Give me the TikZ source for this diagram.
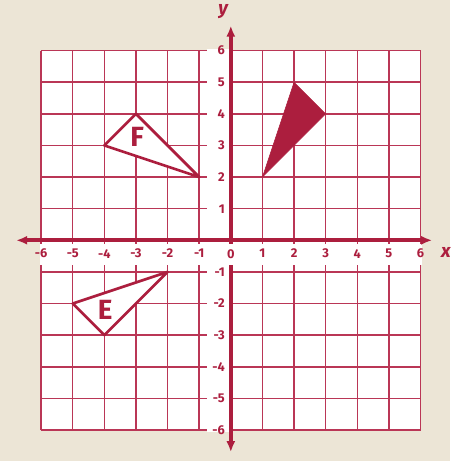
\documentclass[tikz,border=0pt]{standalone}
\usepackage{fontspec}
\setsansfont{Fira Sans}
\usetikzlibrary{arrows.meta}
\definecolor{GridRed}{RGB}{172, 30, 62}
\definecolor{GridPink}{RGB}{186, 54, 86}
\definecolor{PaperBeige}{RGB}{236, 229, 214}

\begin{document}
\begin{tikzpicture}[
    gridline/.style={GridPink, line width=1.3pt},
    axis/.style={GridRed, line width=3.5pt, {Latex[length=6mm,width=2.4mm]}-{Latex[length=6mm,width=2.4mm]}},
    tri/.style={GridRed, line width=2.4pt, fill=white, line join=round},
    solidtri/.style={GridRed, fill=GridRed, line width=0.4pt, line join=round},
    ticklabel/.style={GridRed, inner sep=1pt, font=\sffamily\bfseries\fontsize{11.5}{13}\selectfont},
    letter/.style={GridRed, font=\sffamily\bfseries\fontsize{25}{28}\selectfont},
    axislabel/.style={GridRed, font=\sffamily\bfseries\itshape\fontsize{17}{20}\selectfont}
  ]
    % Paper
    \useasboundingbox (-7.30, -6.98) rectangle (6.94, 7.60);
    \fill[PaperBeige] (-7.30, -6.98) rectangle (6.94, 7.60);
    \fill[white] (-6, -6) rectangle (6, 6);

    % Grid
    \foreach \i in {-6,...,6} {
      \draw[gridline] (\i, -6) -- (\i, 6);
      \draw[gridline] (-6, \i) -- (6, \i);
    }

    % Gaps for the numbers
    \fill[white] (-6.05, -0.12) rectangle (6.05, -0.78);
    \fill[white] (-0.75, -6.05) rectangle (0, 6.05);

    % Triangles
    \draw[tri] (-4, 3) -- (-3, 4) -- (-1, 2) -- cycle;
    \draw[tri] (-5, -2) -- (-4, -3) -- (-2, -1) -- cycle;
    \filldraw[solidtri] (1, 2) -- (2, 5) -- (3, 4) -- cycle;

    % Axes
    \coordinate (xmin) at (-7.04, 0);
    \coordinate (xmax) at (6.62, 0);
    \coordinate (ymin) at (0, -6.95);
    \coordinate (ymax) at (0, 7.04);
    \draw[axis] (xmin) -- (xmax);
    \draw[axis] (ymin) -- (ymax);

    % Numbers
    \foreach \i in {-6,...,-1,1,2,...,6} {
      \node[ticklabel] (xl\i) at (\i, -0.42) {\i};
      \node[ticklabel, anchor=east] (yl\i) at (-0.15, \i) {\i};
    }
    \node[ticklabel, fill=white, minimum width=0.5cm, minimum height=0.64cm] (zero) at (0, -0.45) {0};

    % Labels
    \node[axislabel] (xlab) at (6.80, -0.38) {x};
    \node[axislabel] (ylab) at (-0.24, 7.24) {y};
    \node[letter] (F) at (-2.96, 3.27) {F};
    \node[letter] (E) at (-3.97, -2.20) {E};
  \end{tikzpicture}
\end{document}
